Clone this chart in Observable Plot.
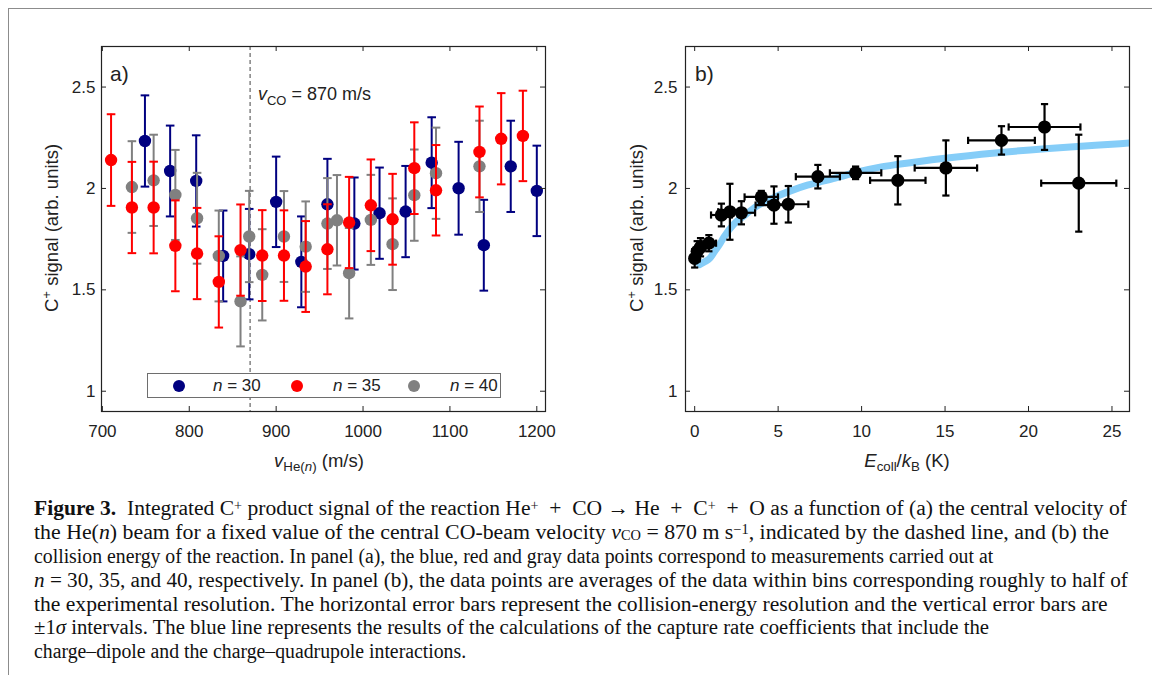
<!DOCTYPE html>
<html><head><meta charset="utf-8">
<script src="https://cdn.jsdelivr.net/npm/d3@7"></script>
<script src="https://cdn.jsdelivr.net/npm/@observablehq/plot@0.6"></script>
<style>
body{margin:0;background:#fff;}
#root{position:relative;width:1152px;height:675px;overflow:hidden;font-family:"Liberation Sans",Arial,sans-serif;color:#222;background:#fff;}
#border{position:absolute;left:8px;top:8px;width:1300px;height:800px;border:1px solid #8c8c8c;}
.panel{position:absolute;top:0;}
.lab{position:absolute;font-size:17px;white-space:nowrap;line-height:1;}
.lab sub,.lab sup{font-size:0.72em;line-height:0;}
.big{font-size:18.5px;}
.rot{transform:translate(-50%,-50%) rotate(-90deg);}
.ctr{transform:translate(-50%,-50%);}
.cap{position:absolute;left:34px;font-family:"Liberation Serif",serif;font-size:20.8px;white-space:nowrap;color:#111;line-height:1;transform-origin:0 50%;}
.cap sub,.cap sup{font-size:0.66em;line-height:0;}
.cap sup{vertical-align:0.36em;}
.cap sub{vertical-align:-0.06em;}
#legend{position:absolute;left:147px;top:373px;width:352px;height:23px;border:1px solid #6e6e6e;background:#fff;}
.ldot{position:absolute;width:12px;height:12px;border-radius:6px;top:5.5px;}
.ltxt{position:absolute;top:3px;font-size:17px;line-height:1;}
</style></head><body>
<div id="root">
<div id="border"></div>
<div id="pa" class="panel" style="left:0px"></div>
<div id="pb" class="panel" style="left:580px"></div>

<div class="lab" style="left:110px;top:63px;font-size:21px">a)</div>
<div class="lab" style="left:695px;top:63px;font-size:21px">b)</div>
<div class="lab" style="left:258px;top:85px;font-size:18px"><i>v</i><sub>CO</sub> = 870 m/s</div>

<div class="lab rot big" style="left:52px;top:228px">C<sup>+</sup> signal (arb. units)</div>
<div class="lab rot big" style="left:637px;top:228px">C<sup>+</sup> signal (arb. units)</div>
<div class="lab ctr big" style="left:319px;top:461px"><i>v</i><sub>He(<i>n</i>)</sub> (m/s)</div>
<div class="lab ctr big" style="left:907px;top:461px"><i>E</i><sub>coll</sub>/<i>k</i><sub>B</sub> (K)</div>

<div id="legend">
  <div class="ldot" style="left:25px;background:#000080"></div>
  <div class="ltxt" style="left:65px"><i>n</i> = 30</div>
  <div class="ldot" style="left:143px;background:#ff0000"></div>
  <div class="ltxt" style="left:185px"><i>n</i> = 35</div>
  <div class="ldot" style="left:260px;background:#808080"></div>
  <div class="ltxt" style="left:302px"><i>n</i> = 40</div>
</div>

<div class="cap" style="top:498px"><b>Figure 3.</b>&nbsp; Integrated C<sup>+</sup> product signal of the reaction He<sup>+</sup> &nbsp;+&nbsp; CO → He &nbsp;+&nbsp; C<sup>+</sup> &nbsp;+&nbsp; O as a function of (a) the central velocity of</div>
<div class="cap" style="top:521.5px">the He(<i>n</i>) beam for a fixed value of the central CO-beam velocity <i>v</i><sub>CO</sub> = 870 m s<sup>−1</sup>, indicated by the dashed line, and (b) the</div>
<div class="cap" style="top:545.5px">collision energy of the reaction. In panel (a), the blue, red and gray data points correspond to measurements carried out at</div>
<div class="cap" style="top:569.5px"><i>n</i> = 30, 35, and 40, respectively. In panel (b), the data points are averages of the data within bins corresponding roughly to half of</div>
<div class="cap" style="top:593.5px">the experimental resolution. The horizontal error bars represent the collision-energy resolution and the vertical error bars are</div>
<div class="cap" style="top:617px">±1<i>σ</i> intervals. The blue line represents the results of the calculations of the capture rate coefficients that include the</div>
<div class="cap" style="top:640.5px">charge–dipole and the charge–quadrupole interactions.</div>
</div>
<script>
// ---------- Panel (a) data ----------
const vCO = 870;
const blueX = [749, 778, 808, 839, 869, 900, 929, 959, 990, 1019, 1049, 1079, 1110, 1139, 1170, 1200];
const blueY = [2.234, 2.086, 2.037, 1.667, 1.676, 1.934, 1.638, 1.922, 1.827, 1.878, 1.886, 2.127, 2.001, 1.720, 2.109, 1.988];
const blueErr = [0.225, 0.224, 0.225, 0.224, 0.223, 0.223, 0.224, 0.224, 0.227, 0.225, 0.225, 0.224, 0.229, 0.224, 0.225, 0.223];
const redX = [710, 734, 759, 784, 809, 834, 859, 884, 909, 934, 959, 984, 1009, 1034, 1059, 1084, 1134, 1159, 1184];
const redY = [2.140, 1.906, 1.906, 1.717, 1.679, 1.539, 1.696, 1.669, 1.669, 1.615, 1.700, 1.832, 1.917, 1.848, 2.100, 1.991, 2.180, 2.245, 2.259];
const redErr = [0.226, 0.225, 0.226, 0.224, 0.225, 0.225, 0.225, 0.224, 0.223, 0.224, 0.222, 0.225, 0.226, 0.224, 0.226, 0.223, 0.224, 0.225, 0.223];
const grayX = [734, 759, 784, 809, 834, 859, 869, 884, 909, 934, 959, 970, 984, 1009, 1034, 1059, 1084, 1134];
const grayY = [2.007, 2.040, 1.968, 1.853, 1.667, 1.443, 1.763, 1.574, 1.763, 1.713, 1.827, 1.843, 1.582, 1.845, 1.725, 1.967, 2.075, 2.109];
const grayErr = [0.226, 0.225, 0.222, 0.224, 0.224, 0.222, 0.225, 0.225, 0.224, 0.223, 0.224, 0.223, 0.223, 0.222, 0.226, 0.225, 0.225, 0.225];
const xTicksA = [700, 800, 900, 1000, 1100, 1200];
const yTicks = [1, 1.5, 2, 2.5];

// ---------- Panel (b) data ----------
const ecoll = [0.0, 0.15, 0.35, 0.85, 1.6, 2.11, 2.8, 3.99, 4.75, 5.61, 7.38, 9.64, 12.17, 15.05, 18.38, 20.96, 23.01];
const sigB = [1.655, 1.690, 1.710, 1.730, 1.869, 1.885, 1.880, 1.958, 1.918, 1.922, 2.058, 2.077, 2.040, 2.101, 2.237, 2.303, 2.026];
const sigErrB = [0.045, 0.050, 0.045, 0.040, 0.056, 0.138, 0.057, 0.030, 0.092, 0.090, 0.058, 0.031, 0.119, 0.136, 0.070, 0.113, 0.239];
const ecollErr = [0.10, 0.15, 0.25, 0.43, 0.62, 0.70, 0.82, 1.00, 1.10, 1.20, 1.32, 1.54, 1.66, 1.87, 2.00, 2.15, 2.25];
const curveX = [0.3, 0.6, 0.9, 1.2, 1.5, 1.75, 2.35, 2.95, 3.75, 4.75, 5.75, 6.75, 7.75, 8.75, 9.7, 11.1, 12.2, 15, 18, 21, 24, 26.1];
const curveY = [1.625, 1.638, 1.655, 1.690, 1.725, 1.760, 1.824, 1.865, 1.914, 1.955, 1.988, 2.016, 2.037, 2.058, 2.080, 2.105, 2.119, 2.149, 2.175, 2.196, 2.213, 2.224];
const xTicksB = [0, 5, 10, 15, 20, 25];

const colors = {blue: "#000080", red: "#ff0000", gray: "#808080"};

const capH = {draw(ctx, size) { const r = Math.sqrt(size / Math.PI); ctx.moveTo(-r, 0); ctx.lineTo(r, 0); }};
const capV = {draw(ctx, size) { const r = Math.sqrt(size / Math.PI); ctx.moveTo(0, -r); ctx.lineTo(0, r); }};

const W = 560, H = 460;
const mT = 46, mB = 49;
const innerH = H - mT - mB;

function series(xs, ys, es) { return xs.map((x, i) => ({x, y: ys[i], e: es[i]})); }
function errMarks(data, color) {
  return [
    Plot.ruleX(data, {x: "x", y1: d => d.y - d.e, y2: d => d.y + d.e, stroke: color, strokeWidth: 2}),
    Plot.dot(data, {x: "x", y: d => d.y + d.e, symbol: capH, r: 4.3, stroke: color, strokeWidth: 2, fill: "none"}),
    Plot.dot(data, {x: "x", y: d => d.y - d.e, symbol: capH, r: 4.3, stroke: color, strokeWidth: 2, fill: "none"}),
    Plot.dot(data, {x: "x", y: "y", r: 6.2, fill: color, stroke: "none"})
  ];
}
function boxTicks(xt, yt, innerW) {
  return [
    Plot.tickX(xt, {x: d => d, insetTop: innerH - 5, stroke: "#222"}),
    Plot.tickX(xt, {x: d => d, insetBottom: innerH - 5, stroke: "#222"}),
    Plot.tickY(yt, {y: d => d, insetRight: innerW - 5, stroke: "#222"}),
    Plot.tickY(yt, {y: d => d, insetLeft: innerW - 5, stroke: "#222"}),
    Plot.frame({stroke: "#222", strokeWidth: 1.2})
  ];
}

const style = {fontFamily: "Liberation Sans, Arial, sans-serif", fontSize: "17px", color: "#222", background: "transparent"};

// Panel (a)
{
  const mL = 101, mR = 15, innerW = W - mL - mR;
  const blue = series(blueX, blueY, blueErr), red = series(redX, redY, redErr), gray = series(grayX, grayY, grayErr);
  const p = Plot.plot({
    width: W, height: H, marginLeft: mL, marginRight: mR, marginTop: mT, marginBottom: mB,
    style,
    x: {domain: [699, 1210], label: null},
    y: {domain: [0.9, 2.7], label: null},
    marks: [
      Plot.ruleX([vCO], {x: d => d, stroke: "#444", strokeWidth: 1, strokeDasharray: "4,3"}),
      ...errMarks(blue, colors.blue),
      ...errMarks(gray, colors.gray),
      ...errMarks(red, colors.red),
      Plot.axisX(xTicksA, {tickSize: 0, tickPadding: 13, label: null, tickFormat: d => String(d)}),
      Plot.axisY(yTicks, {tickSize: 0, tickPadding: 6, label: null, tickFormat: d => String(d)}),
      ...boxTicks(xTicksA, yTicks, innerW)
    ]
  });
  document.getElementById("pa").append(p);
}

// Panel (b)
{
  const mL = 105, mR = 11, innerW = W - mL - mR;
  const pts = ecoll.map((x, i) => ({x, y: sigB[i], e: sigErrB[i], ex: ecollErr[i]}));
  const curve = curveX.map((x, i) => ({x, y: curveY[i]}));
  const p = Plot.plot({
    width: W, height: H, marginLeft: mL, marginRight: mR, marginTop: mT, marginBottom: mB,
    style,
    x: {domain: [-0.55, 26.05], label: null},
    y: {domain: [0.9, 2.7], label: null},
    marks: [
      Plot.line(curve, {x: "x", y: "y", stroke: "#85cdf8", strokeWidth: 7, curve: "monotone-x", clip: true}),
      Plot.ruleY(pts, {y: "y", x1: d => d.x - d.ex, x2: d => d.x + d.ex, stroke: "#000", strokeWidth: 2.2}),
      Plot.ruleX(pts, {x: "x", y1: d => d.y - d.e, y2: d => d.y + d.e, stroke: "#000", strokeWidth: 2.2}),
      Plot.dot(pts, {x: d => d.x - d.ex, y: "y", symbol: capV, r: 3.6, stroke: "#000", strokeWidth: 2.2, fill: "none"}),
      Plot.dot(pts, {x: d => d.x + d.ex, y: "y", symbol: capV, r: 3.6, stroke: "#000", strokeWidth: 2.2, fill: "none"}),
      Plot.dot(pts, {x: "x", y: d => d.y + d.e, symbol: capH, r: 3.6, stroke: "#000", strokeWidth: 2.2, fill: "none"}),
      Plot.dot(pts, {x: "x", y: d => d.y - d.e, symbol: capH, r: 3.6, stroke: "#000", strokeWidth: 2.2, fill: "none"}),
      Plot.dot(pts, {x: "x", y: "y", r: 6.6, fill: "#000", stroke: "none"}),
      Plot.axisX(xTicksB, {tickSize: 0, tickPadding: 13, label: null, tickFormat: d => String(d)}),
      Plot.axisY(yTicks, {tickSize: 0, tickPadding: 8, label: null, tickFormat: d => String(d)}),
      ...boxTicks(xTicksB, yTicks, innerW)
    ]
  });
  document.getElementById("pb").append(p);
}

// caption: a mild per-line width correction toward the reference line ends
{
  const targets = [1093, 1090, 820, 1094, 1074, 955, 422];
  const lines = [...document.querySelectorAll(".cap")];
  lines.forEach((el, i) => {
    const w = el.offsetWidth;
    const s = Math.max(0.95, Math.min(1.05, targets[i] / w));
    el.style.transform = `scaleX(${s.toFixed(4)})`;
  });
}
</script>
</body></html>
